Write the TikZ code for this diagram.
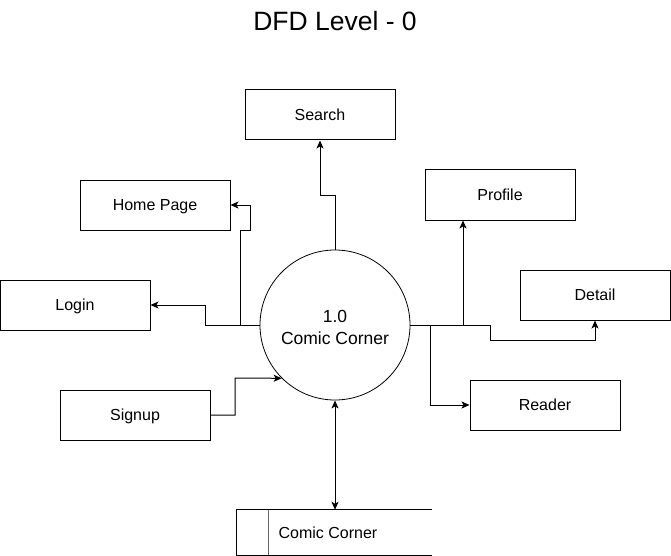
\documentclass[tikz,border=0pt]{standalone}
\usepackage{fontspec}
\setmainfont{Liberation Sans}
\usetikzlibrary{arrows.meta}
\begin{document}
\begin{tikzpicture}[x=1pt,y=-1pt,
  ent/.style={draw, line width=1pt, minimum width=150pt, minimum height=50pt, inner sep=0pt, text height=11.5pt, text depth=0pt, font=\fontsize{16}{19}\selectfont},
  proc/.style={draw, line width=0.8pt, circle, minimum size=150pt, inner sep=0pt},
  proctxt/.style={align=center, inner sep=0pt, font=\fontsize{17.5}{21.5}\selectfont},
  flow/.style={line width=1pt, -{Stealth[length=8pt,width=7pt,inset=2pt]}},
  biflow/.style={line width=1pt, {Stealth[length=8pt,width=7pt,inset=2pt]}-{Stealth[length=8pt,width=7pt,inset=2pt]}},
  storeline/.style={line width=1pt}]
\useasboundingbox (0,0) rectangle (671,556);
\node[font=\fontsize{26.5}{30}\selectfont] (title) at (335,21) {DFD Level - 0};

\node[proc] (proc) at (335,325) {};
\node[proctxt] (proctext) at (335,327.5) {1.0\\Comic Corner};
\node[ent] (search) at (320,115) {Search};
\node[ent] (home) at (155,205) {Home Page};
\node[ent] (login) at (75,305) {Login};
\node[ent] (signup) at (135,415) {Signup};
\node[ent] (profile) at (500,195) {Profile};
\node[ent] (detail) at (595,295) {Detail};
\node[ent] (reader) at (545,405) {Reader};

% data store
\node[minimum width=195pt, minimum height=45pt, inner sep=0pt] (store) at (334.5,532.5) {};
\draw[storeline] (store.north east) -- (store.north west) -- (store.south west) -- (store.south east);
\coordinate (divtop) at (268,510);
\draw[storeline, black!60] (divtop) -- (divtop |- store.south);
\node[font=\fontsize{16}{19}\selectfont, text height=11.5pt, text depth=0pt, inner sep=0pt] (storetext) at (328,533) {Comic Corner};

% flows
\coordinate (s1) at (335,195);
\coordinate (s2) at (320,195);
\draw[flow] (proc.north) -- (s1) -- (s2) -- (search.south);

\coordinate (h1) at (240,325);
\coordinate (h2) at (240,230);
\coordinate (h3) at (250,230);
\coordinate (h4) at (250,205);
\draw[flow] (proc.west) -- (h1) -- (h2) -- (h3) -- (h4) -- (home.east);

\coordinate (l1) at (205,325);
\coordinate (l2) at (205,305);
\draw[flow] (proc.west) -- (l1) -- (l2) -- (login.east);

\coordinate (g1) at (235,415);
\coordinate (g2) at (235,378);
\draw[flow] (signup.east) -- (g1) -- (g2) -- (proc.225);

\coordinate (p1) at (463,325);
\draw[flow] (proc.east) -- (p1) -- (p1 |- profile.south);

\coordinate (d1) at (490,325);
\coordinate (d2) at (490,340);
\coordinate (d3) at (595,340);
\draw[flow] (proc.east) -- (d1) -- (d2) -- (d3) -- (detail.south);

\coordinate (r1) at (430,325);
\coordinate (r2) at (430,405);
\draw[flow] (proc.east) -- (r1) -- (r2) -- (reader.west);

\draw[biflow] (proc.south) -- (proc.south |- store.north);
\end{tikzpicture}
\end{document}
